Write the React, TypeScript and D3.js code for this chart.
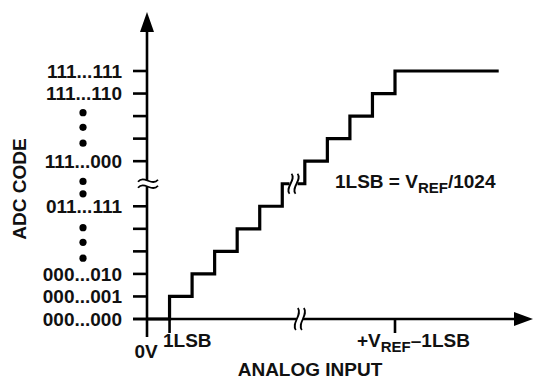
import React from "react";
import * as d3 from "d3";

const W = 534;
const H = 380;

// Y axis: code positions (index 6 is the break)
const codeIdx = [0, 1, 2, 3, 4, 5, 7, 8, 9, 10, 11];
const codeLabels = ["000...000", "000...001", "000...010", "", "", "011...111", "111...000", "", "", "111...110", "111...111"];
const dotIdx = [9.15, 8.5, 7.8, 6.1, 5.55, 4.05, 3.4, 2.7];

// Staircase transfer function (x in LSB steps, code index)
const stepX = [0, 1, 2, 3, 4, 5, 6, 7, 8, 9, 10, 11, 15.6];
const stepCode = [0, 1, 2, 3, 4, 5, 6, 7, 8, 9, 10, 11, 11];

const xTickIdx = [1, 11];
const yBreakIdx = 6;
const xBreakIdx = 6.78;
const stairBreakX = 6.5;

const FONT = "'Liberation Sans', Arial, Helvetica, sans-serif";

export default function App() {
  const x = d3.scaleLinear().domain([0, 11]).range([147, 395]);
  const y = d3.scaleLinear().domain([0, 11]).range([319, 71]);

  const pts = stepX.map((v, i) => [x(v), y(stepCode[i])] as [number, number]);
  const stair = d3.line().curve(d3.curveStepAfter)(pts) || "";

  const x0 = x(0);
  const y0 = y(0);
  const yTop = y(13.62);
  const yBot = y(-0.8);
  const xLeft = x(-0.62);
  const xRight = x(17.12);

  const vSquiggle = (cx: number, cy: number, h: number) => {
    const a = cy - h / 2;
    const b = cy + h / 2;
    return `M${cx + 1},${a} C${cx + 6},${a + h * 0.3} ${cx - 6},${b - h * 0.3} ${cx - 1},${b}`;
  };
  const hSquiggle = (cx: number, cy: number, w: number) => {
    const a = cx - w / 2;
    const b = cx + w / 2;
    return `M${a},${cy + 1} C${a + w * 0.3},${cy - 6} ${b - w * 0.3},${cy + 6} ${b},${cy - 1}`;
  };

  const yb = y(yBreakIdx);
  const xb = x(xBreakIdx);
  const sbx = x(stairBreakX);
  const sby = y(6);

  return (
    <svg width={W} height={H} style={{ position: "fixed", left: 0, top: 0, background: "#fff" }} fontFamily={FONT} fontWeight="bold">
      <rect width={W} height={H} fill="#fff" />
      {/* staircase */}
      <path d={stair} fill="none" stroke="#000" strokeWidth={3.2} strokeLinejoin="miter" />

      {/* axes */}
      <line x1={x0} x2={x0} y1={yBot} y2={yTop + 16} stroke="#000" strokeWidth={2.6} />
      <path d={`M${x0},${yTop} L${x0 - 7},${yTop + 20} L${x0 + 7},${yTop + 20} Z`} fill="#000" />
      <line x1={xLeft} x2={xRight - 16} y1={y0} y2={y0} stroke="#000" strokeWidth={2.6} />
      <path d={`M${xRight},${y0} L${xRight - 19},${y0 - 7} L${xRight - 19},${y0 + 7} Z`} fill="#000" />

      {/* y ticks & labels */}
      {codeIdx.map((c, i) => (
        <g key={"yt" + i}>
          <line x1={x0 - 14} x2={x0} y1={y(c)} y2={y(c)} stroke="#000" strokeWidth={2.6} />
          {codeLabels[i] && (
            <text x={122} y={y(c)} dy="0.36em" textAnchor="end" fontSize={19} fill="#111">
              {codeLabels[i]}
            </text>
          )}
        </g>
      ))}
      {dotIdx.map((d, i) => (
        <circle key={"d" + i} cx={83} cy={y(d)} r={3.6} fill="#000" />
      ))}

      {/* x ticks */}
      {xTickIdx.map((t, i) => (
        <line key={"xt" + i} x1={x(t)} x2={x(t)} y1={y0} y2={y0 + 14} stroke="#000" strokeWidth={2.6} />
      ))}

      {/* y-axis break */}
      <rect x={x0 - 3} y={yb - 3} width={6} height={6} fill="#fff" />
      <path d={hSquiggle(x0 + 1, yb - 3, 20)} fill="none" stroke="#000" strokeWidth={1.8} />
      <path d={hSquiggle(x0 + 1, yb + 3, 20)} fill="none" stroke="#000" strokeWidth={1.8} />

      {/* x-axis break */}
      <rect x={xb - 3} y={y0 - 3} width={6} height={6} fill="#fff" />
      <path d={vSquiggle(xb - 3, y0, 22)} fill="none" stroke="#000" strokeWidth={1.8} />
      <path d={vSquiggle(xb + 3, y0, 22)} fill="none" stroke="#000" strokeWidth={1.8} />

      {/* staircase break */}
      <rect x={sbx - 4} y={sby - 4} width={8} height={8} fill="#fff" />
      <path d={vSquiggle(sbx - 3, sby, 20)} fill="none" stroke="#000" strokeWidth={1.8} />
      <path d={vSquiggle(sbx + 3, sby, 20)} fill="none" stroke="#000" strokeWidth={1.8} />

      {/* labels */}
      <text x={146} y={358} textAnchor="middle" fontSize={19} fill="#111">0V</text>
      <text x={163} y={347} textAnchor="start" fontSize={19} fill="#111">1LSB</text>
      <text x={357} y={347} textAnchor="start" fontSize={19} fill="#111">
        +V<tspan fontSize={15} dy={5}>REF</tspan><tspan dy={-5}>–1LSB</tspan>
      </text>
      <text x={310} y={376} textAnchor="middle" fontSize={19} fill="#111">ANALOG INPUT</text>
      <text transform="translate(26,189) rotate(-90)" textAnchor="middle" fontSize={19} fill="#111">ADC CODE</text>
      <text x={335} y={188} textAnchor="start" fontSize={19} fill="#111">
        1LSB = V<tspan fontSize={15} dy={5}>REF</tspan><tspan dy={-5}>/1024</tspan>
      </text>
    </svg>
  );
}
